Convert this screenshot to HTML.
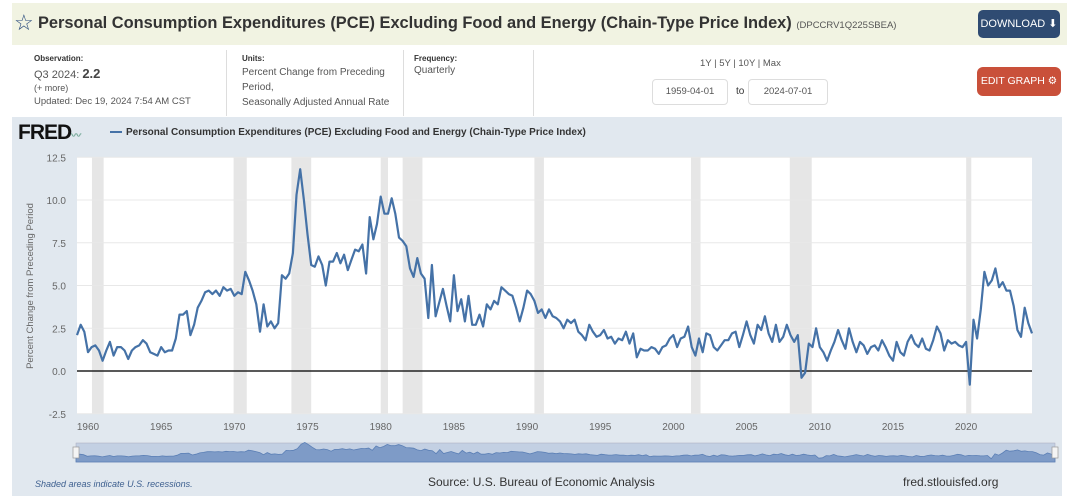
<!DOCTYPE html>
<html><head><meta charset="utf-8">
<style>
*{margin:0;padding:0;box-sizing:border-box}
body{width:1080px;height:496px;background:#fff;font-family:"Liberation Sans",sans-serif;position:relative;overflow:hidden;color:#333}
.abs{position:absolute}
</style></head><body>
<div class="abs" style="left:12px;top:3px;width:1055px;height:42px;background:#f1f3e2"></div>
<div class="abs" style="left:14px;top:10px;font-size:22px;color:#2b4c7e">☆</div>
<div class="abs" style="left:38px;top:14px;font-size:16.4px;font-weight:bold;color:#333;white-space:nowrap">Personal Consumption Expenditures (PCE) Excluding Food and Energy (Chain-Type Price Index) <span style="font-size:9.5px;font-weight:normal;color:#555">(DPCCRV1Q225SBEA)</span></div>
<div class="abs" style="left:978px;top:10px;width:82px;height:28px;background:#2f4b72;border-radius:5px;color:#fff;font-size:11px;line-height:28px;text-align:center">DOWNLOAD ⬇</div>
<div class="abs" style="left:34px;top:54px;font-size:8px;font-weight:bold">Observation:</div>
<div class="abs" style="left:34px;top:66px;font-size:11px;color:#555">Q3 2024: <b style="font-size:13px;color:#444">2.2</b></div>
<div class="abs" style="left:34px;top:83px;font-size:9px;color:#555">(+ more)</div>
<div class="abs" style="left:34px;top:96px;font-size:9.5px;color:#555">Updated: Dec 19, 2024 7:54 AM CST</div>
<div class="abs" style="left:226px;top:50px;width:1px;height:66px;background:#ddd"></div>
<div class="abs" style="left:242px;top:54px;font-size:8px;font-weight:bold">Units:</div>
<div class="abs" style="left:242px;top:65px;font-size:10px;color:#555;line-height:15px">Percent Change from Preceding<br>Period,<br>Seasonally Adjusted Annual Rate</div>
<div class="abs" style="left:403px;top:50px;width:1px;height:66px;background:#ddd"></div>
<div class="abs" style="left:414px;top:54px;font-size:8px;font-weight:bold">Frequency:</div>
<div class="abs" style="left:414px;top:65px;font-size:10px;color:#555">Quarterly</div>
<div class="abs" style="left:533px;top:50px;width:1px;height:66px;background:#ddd"></div>
<div class="abs" style="left:700px;top:58px;font-size:9.5px;color:#555">1Y | 5Y | 10Y | Max</div>
<div class="abs" style="left:652px;top:79px;width:76px;height:26px;border:1px solid #ddd;border-radius:4px;font-size:9.5px;line-height:24px;text-align:center;color:#555">1959-04-01</div>
<div class="abs" style="left:736px;top:86px;font-size:10px">to</div>
<div class="abs" style="left:748px;top:79px;width:80px;height:26px;border:1px solid #ddd;border-radius:4px;font-size:9.5px;line-height:24px;text-align:center;color:#555">2024-07-01</div>
<div class="abs" style="left:977px;top:67px;width:84px;height:29px;background:#c9503a;border-radius:6px;color:#fff;font-size:10.5px;line-height:29px;text-align:center">EDIT GRAPH ⚙</div>
<div class="abs" style="left:12px;top:117px;width:1050px;height:379px;background:#e1e8ef"></div>
<div class="abs" style="left:18px;top:121px;font-size:21px;font-weight:900;color:#111;letter-spacing:-1px">FRED<span style="font-size:10px;color:#7a9">〰</span></div>
<div class="abs" style="left:110px;top:127px;font-size:10px;font-weight:bold;color:#333"><span style="display:inline-block;width:12px;height:2px;background:#4572a7;vertical-align:middle;margin-right:4px"></span>Personal Consumption Expenditures (PCE) Excluding Food and Energy (Chain-Type Price Index)</div>
<svg class="abs" style="left:0;top:0" width="1080" height="496" id="chart"></svg>
<div class="abs" style="left:35px;top:479px;font-size:9px;font-style:italic;color:#3d5f8f">Shaded areas indicate U.S. recessions.</div>
<div class="abs" style="left:428px;top:475px;font-size:12px;color:#333">Source: U.S. Bureau of Economic Analysis</div>
<div class="abs" style="left:903px;top:475px;font-size:12px;color:#333">fred.stlouisfed.org</div>
<script>
const startYear = 1959.25;
const values = [2.1,2.7,2.3,
1.1,1.4,1.5,1.2, 0.6,1.2,1.7,0.9, 1.4,1.4,1.2,0.7, 1.2,1.4,1.5,1.8, 1.6,1.1,1.0,0.9,
1.4,1.1,1.2,1.2, 1.9,3.3,3.3,3.5, 2.1,2.7,3.7,4.1, 4.6,4.7,4.5,4.7, 4.4,4.9,4.7,4.8,
4.4,4.6,4.5,5.8, 5.3,4.7,3.9,2.3, 3.9,2.6,2.9,2.5, 2.8,5.6,5.4,5.7, 6.9,10.3,11.8,10.0,
8.0,6.2,6.1,6.7, 6.2,5.0,6.4,6.4, 6.9,6.3,6.8,5.9, 6.5,7.1,7.0,7.4, 5.7,9.0,7.7,8.6,
10.2,9.2,9.2,10.1, 9.2,7.8,7.6,7.3, 6.0,5.5,6.6,5.7, 5.4,3.1,6.2,3.2, 4.0,4.8,3.8,2.9,
5.6,3.5,4.2,2.9, 4.4,2.7,2.7,3.3, 2.6,3.9,3.6,4.1, 3.9,4.9,4.7,4.5, 4.4,3.7,2.9,3.7,
4.7,4.5,4.1,3.4, 3.6,3.1,3.6,3.2, 3.1,2.9,2.5,3.0, 2.8,3.0,2.3,2.1, 1.8,2.7,2.3,2.0,
2.1,2.4,1.9,2.0, 1.6,1.9,1.8,2.3, 1.6,2.2,0.8,1.3, 1.2,1.2,1.4,1.3, 1.0,1.4,1.5,1.9,
2.1,1.4,1.9,2.0, 2.6,1.4,0.9,1.9, 1.1,2.2,2.1,1.4, 1.2,1.5,1.8,1.8, 2.2,2.3,1.4,2.1,
2.9,2.1,1.6,2.7, 2.4,3.2,2.2,1.7, 2.7,1.7,2.0,2.7, 2.1,1.7,2.1,-0.4, -0.1,1.6,1.4,2.5,
1.4,1.1,0.6,1.2, 1.7,2.4,1.8,1.3, 2.5,1.7,1.1,1.7, 1.5,1.0,1.4,1.5, 1.2,1.8,1.4,0.9,
0.6,1.7,1.1,0.9, 1.7,2.1,1.6,1.4, 1.9,1.3,1.2,1.8, 2.6,2.2,1.2,1.8, 1.6,1.7,1.5,1.4,
1.7,-0.8,3.0,1.9, 3.6,5.8,5.0,5.3, 6.0,4.9,5.2,4.7, 4.7,3.8,2.4,2.0, 3.7,2.8,2.2];
const recStart = [1960.27,1969.95,1973.9,1980.0,1981.5,1990.5,2001.2,2007.95,2020.0];
const recEnd = [1961.07,1970.85,1975.25,1980.5,1982.85,1991.15,2001.85,2009.45,2020.35];
const yTicks = [-2.5,0,2.5,5,7.5,10,12.5];
const xTicks = [1960,1965,1970,1975,1980,1985,1990,1995,2000,2005,2010,2015,2020];

const NS='http://www.w3.org/2000/svg';
const svg=document.getElementById('chart');
const L=77,R=1032,T=157,B=414;
const x0=1959.25,x1=2024.5;
const xs=v=>L+(v-x0)/(x1-x0)*(R-L);
const ys=v=>371-v*17.1;
function mk(tag,attrs){const e=document.createElementNS(NS,tag);for(const k in attrs)e.setAttribute(k,attrs[k]);svg.appendChild(e);return e;}
let e=mk('rect',{x:L,y:T,width:R-L,height:B-T,fill:'#fff'});


recStart.forEach((s,i)=>{const r=mk('rect',{x:xs(s),y:T,width:xs(recEnd[i])-xs(s),height:B-T,fill:'#e6e6e6'});

});
yTicks.forEach(t=>{const g=mk('line',{x1:L,x2:R,y1:ys(t),y2:ys(t),stroke:'#e8e8e8','stroke-width':1});


const tx=mk('text',{x:66,y:ys(t)+4,'text-anchor':'end','font-size':'10','fill':'#666','font-family':'Liberation Sans'});
tx.textContent=t.toFixed(1);

});
xTicks.forEach(t=>{const tx=mk('text',{x:xs(t),y:430,'text-anchor':'middle','font-size':'10','fill':'#666','font-family':'Liberation Sans'});
tx.textContent=t;

});
e=mk('line',{x1:L,x2:R,y1:ys(0),y2:ys(0),stroke:'#222','stroke-width':1.6});


const pts=values.map((v,i)=>xs(startYear+i*0.25).toFixed(1)+','+ys(v).toFixed(1)).join(' ');
e=mk('polyline',{points:pts,fill:'none',stroke:'#4572a7','stroke-width':2.2,'stroke-linejoin':'round'});


e=mk('text',{x:0,y:0,transform:'translate(33,286) rotate(-90)','text-anchor':'middle','font-size':'9.5','fill':'#666','font-family':'Liberation Sans'});
e.textContent='Percent Change from Preceding Period';


const NL=76,NR=1055,NT=443,NB=462;
e=mk('rect',{x:NL,y:NT,width:NR-NL,height:NB-NT,fill:'#c3d0e3',stroke:'#aab','stroke-width':0.5});


const nx=v=>NL+(v-x0)/(x1-x0)*(NR-NL);
const ny=v=>NB-3-(v+1)*1.3;
let np='M'+NL+','+NB+' '+values.map((v,i)=>'L'+nx(startYear+i*0.25).toFixed(1)+','+ny(v).toFixed(1)).join(' ')+' L'+NR+','+NB+'Z';
e=mk('path',{d:np,fill:'#7e9bc7',stroke:'#5b7fb5','stroke-width':0.8});


[NL,NR].forEach(hx=>{const h=mk('rect',{x:hx-3,y:NT+4,width:6,height:11,fill:'#f4f4f4',stroke:'#999','stroke-width':0.7});

});
</script>
</body></html>
